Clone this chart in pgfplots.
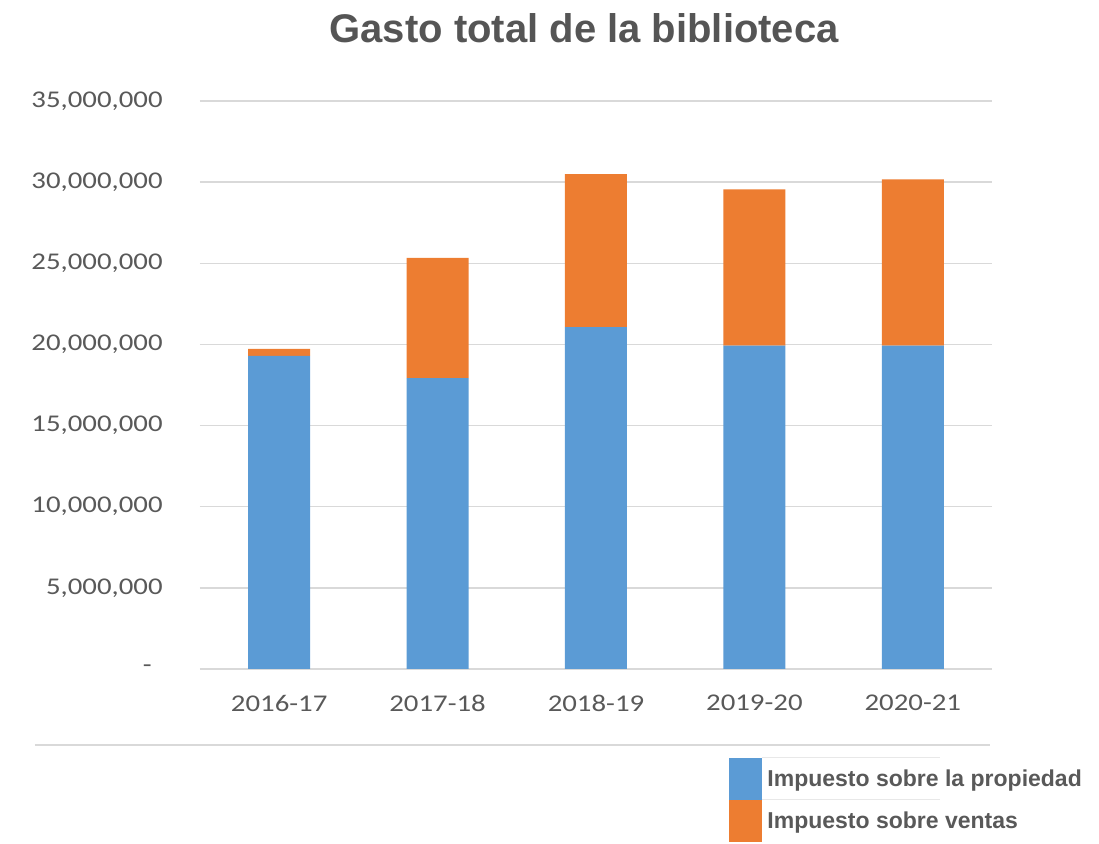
\documentclass[border=0pt]{standalone}
\usepackage{fontspec}
\usepackage{pgfplots}
\pgfplotsset{compat=1.18}
\setmainfont{Liberation Sans}
\newfontfamily\tickfont[FakeStretch=1.2]{Carlito}
\definecolor{barblue}{HTML}{5B9BD5}
\definecolor{barorange}{HTML}{ED7D31}
\definecolor{txtgray}{HTML}{595959}
\definecolor{titlegray}{HTML}{555555}
\definecolor{gridgray}{HTML}{D9D9D9}
\pgfplotsset{
  myleg/.style={legend image code/.code={\fill[##1] (0pt,-10.5pt) rectangle (16.5pt,10.5pt);}}
}
\begin{document}
\begin{tikzpicture}
\begin{axis}[
  at={(0,0)}, anchor=south west,
  scale only axis, width=396pt, height=284pt,
  ybar stacked, bar width=31pt,
  xmin=-0.5, xmax=4.5, ymin=0, ymax=35000000,
  xtick={0,1,2,3,4},
  xticklabels={2016-17,2017-18,2018-19,2019-20,2020-21},
  ytick={0,5000000,10000000,15000000,20000000,25000000,30000000,35000000},
  yticklabels={{-\kern5.5pt},{5,000,000},{10,000,000},{15,000,000},{20,000,000},{25,000,000},{30,000,000},{35,000,000}},
  scaled y ticks=false,
  ymajorgrids, grid style={gridgray, line width=0.75pt},
  axis x line*=bottom, axis y line*=left,
  axis line style={-, gridgray, line width=0.75pt},
  y axis line style={draw=none},
  major tick length=0pt, tick style={draw=none},
  yticklabel style={font=\tickfont\fontsize{12}{14}\selectfont, text=txtgray, anchor=east, inner sep=0pt, xshift=-18.5pt},
  xticklabel style={font=\tickfont\fontsize{12}{14}\selectfont, text=txtgray, anchor=north, inner sep=0pt, yshift=-13pt},
  title={Gasto total de la biblioteca},
  title style={at={(0.485,1.107)}, anchor=center, font=\bfseries\fontsize{20}{24}\selectfont, text=titlegray},
  legend style={at={(0.668,-0.1567)}, anchor=north west, draw=none, fill=none, inner sep=0pt,
    /tikz/row sep=0pt, /tikz/column sep=2.5pt,
    font=\bfseries\fontsize{11.5}{13}\selectfont, text=txtgray,
    nodes={inner sep=0pt}},
  legend cell align=left,
]
\addplot[fill=barblue, draw=none, myleg] coordinates {(0,19300000) (1,17930000) (2,21070000) (3,19920000) (4,19920000)};
\addplot[fill=barorange, draw=none, myleg] coordinates {(0,420000) (1,7400000) (2,9430000) (3,9640000) (4,10250000)};
\legend{Impuesto sobre la propiedad, Impuesto sobre ventas}
\end{axis}
\draw[gridgray, line width=0.6pt] (-82.5pt,-38pt) -- (395pt,-38pt);
\draw[gridgray!60, line width=0.5pt] (281pt,-44.5pt) -- (370pt,-44.5pt);
\draw[gridgray!60, line width=0.5pt] (281pt,-65.5pt) -- (370pt,-65.5pt);
\pgfresetboundingbox
\path[use as bounding box] (-100pt,-87.5pt) rectangle (449.5pt,334.5pt);
\end{tikzpicture}
\end{document}
